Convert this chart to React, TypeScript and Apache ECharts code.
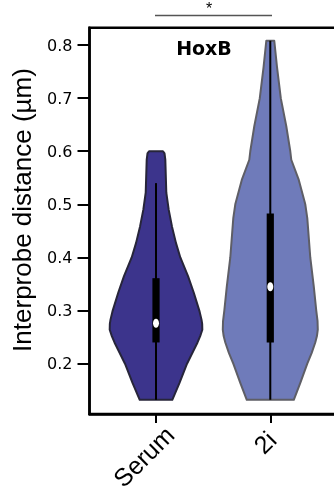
import React, { useEffect, useRef } from 'react';
import * as echarts from 'echarts';

const categories = ['Serum', '2i'];
const yTicks = [0.2, 0.3, 0.4, 0.5, 0.6, 0.7, 0.8];
const panelTitle = 'HoxB';
const yTitle = 'Interprobe distance (µm)';
const significance = '*';

// violin outline: [value, relative density]
const serumDensity: [number, number][] = [
  [0.132, 0.343], [0.164, 0.495], [0.2, 0.653], [0.24, 0.874], [0.252, 0.93], [0.264, 0.975],
  [0.275, 0.972], [0.283, 0.958], [0.3, 0.912], [0.334, 0.794], [0.365, 0.674], [0.4, 0.512],
  [0.427, 0.421], [0.458, 0.337], [0.49, 0.267], [0.522, 0.217], [0.584, 0.196],
  [0.596, 0.179], [0.6, 0.147],
];
const twoIDensity: [number, number][] = [
  [0.132, 0.495], [0.164, 0.632], [0.2, 0.779], [0.22, 0.87], [0.24, 0.947], [0.252, 0.982],
  [0.264, 1.0], [0.28, 0.995], [0.3, 0.968], [0.345, 0.916], [0.4, 0.842], [0.474, 0.779],
  [0.5, 0.737], [0.546, 0.6], [0.584, 0.442], [0.6, 0.421], [0.647, 0.337], [0.7, 0.221],
  [0.759, 0.141], [0.808, 0.084],
];

const whiskerLow = [0.132, 0.132];
const q1 = [0.24, 0.24];
const medians = [0.276, 0.345];
const q3 = [0.361, 0.483];
const whiskerHigh = [0.54, 0.808];

const fills = ['#3c348c', '#6f7bba'];
const strokes = ['#27253a', '#5e5e66'];
const HALF = 0.4156;
const LABEL_FONT = 25;
const LABEL_ANCHOR = 0.74;
const LABEL_NUDGE = [{ bottom: 0, right: 0 }, { bottom: 10, right: -4 }];

function measure(t: string): number {
  const ctx = document.createElement('canvas').getContext('2d');
  if (!ctx) return t.length * LABEL_FONT * 0.55;
  ctx.font = `${LABEL_FONT}px "Liberation Sans"`;
  return ctx.measureText(t).width;
}

export default function App() {
  const ref = useRef<HTMLDivElement>(null);
  useEffect(() => {
    if (!ref.current) return;
    const chart = echarts.init(ref.current, null, { renderer: 'svg' });
    const profiles = [serumDensity, twoIDensity];
    const rich: Record<string, any> = {};
    categories.forEach((c, i) => {
      const n = LABEL_NUDGE[i];
      rich['c' + i] = {
        fontSize: LABEL_FONT, fontFamily: 'Liberation Sans', color: '#000',
        padding: [0, Math.max(0, measure(c) * (2 * LABEL_ANCHOR - 1) + n.right), n.bottom, 0],
      };
    });
    chart.setOption({
      animation: false,
      textStyle: { fontFamily: 'Liberation Sans' },
      grid: {
        left: 89.5, top: 27.7, width: 250.5, height: 386.3,
        containLabel: false, outerBoundsMode: 'none',
        show: true, borderColor: '#000', borderWidth: 2.5, backgroundColor: 'transparent',
      },
      xAxis: {
        type: 'value', min: 0.418, max: 2.61,
        splitLine: { show: false },
        axisLine: { show: true, lineStyle: { color: '#000', width: 2.5 } },
        axisTick: { show: true, customValues: [1, 2], length: 9, lineStyle: { color: '#000', width: 2 } },
        axisLabel: {
          customValues: [1, 2],
          formatter: (v: number) => {
            const i = Math.round(v) - 1;
            return categories[i] ? `{c${i}|${categories[i]}}` : '';
          },
          rich,
          rotate: 45, align: 'center', fontSize: LABEL_FONT, color: '#000', fontFamily: 'Liberation Sans', margin: 30,
        },
      },
      yAxis: {
        type: 'value', min: 0.1053, max: 0.8326,
        splitLine: { show: false },
        axisLine: { show: true, lineStyle: { color: '#000', width: 2.5 } },
        axisTick: { show: true, customValues: yTicks, length: 12, lineStyle: { color: '#000', width: 2 } },
        axisLabel: {
          customValues: yTicks,
          formatter: (v: number) => v.toFixed(1),
          fontSize: 16, color: '#000', fontFamily: 'DejaVu Sans', margin: 17,
        },
      },
      series: [{
        type: 'custom',
        clip: false,
        data: categories.map((c, i) => [i + 1, whiskerLow[i], whiskerHigh[i]]),
        encode: { x: 0, y: [1, 2] },
        renderItem: (params: any, api: any) => {
          const i = params.dataIndex;
          const cx = i + 1;
          const prof = profiles[i];
          const pts: number[][] = [];
          for (const [v, d] of prof) pts.push(api.coord([cx - d * HALF, v]));
          for (let k = prof.length - 1; k >= 0; k--) {
            const [v, d] = prof[k];
            pts.push(api.coord([cx + d * HALF, v]));
          }
          const lo = api.coord([cx, whiskerLow[i]]);
          const hi = api.coord([cx, whiskerHigh[i]]);
          const b1 = api.coord([cx, q1[i]]);
          const b3 = api.coord([cx, q3[i]]);
          const m = api.coord([cx, medians[i]]);
          return {
            type: 'group',
            children: [
              { type: 'polygon', shape: { points: pts }, style: { fill: fills[i], stroke: strokes[i], lineWidth: 2, lineJoin: 'round' } },
              { type: 'line', shape: { x1: lo[0], y1: lo[1], x2: hi[0], y2: hi[1] }, style: { stroke: '#000', lineWidth: 2 } },
              { type: 'rect', shape: { x: b3[0] - 3.6, y: b3[1], width: 7.2, height: b1[1] - b3[1] }, style: { fill: '#000' } },
              { type: 'ellipse', shape: { cx: m[0], cy: m[1], rx: 3, ry: 4.5 }, style: { fill: '#fff' } },
            ],
          };
        },
      }],
      graphic: [
        { type: 'text', x: 204, y: 48, style: { text: panelTitle, fontFamily: 'DejaVu Sans', fontWeight: 'bold', fontSize: 19, fill: '#000', align: 'center', verticalAlign: 'middle' } },
        { type: 'line', shape: { x1: 155, y1: 15.5, x2: 272, y2: 15.5 }, style: { stroke: '#555', lineWidth: 1.5 } },
        { type: 'text', x: 209, y: 8.5, style: { text: significance, fontFamily: 'Liberation Sans', fontSize: 16, fill: '#000', align: 'center', verticalAlign: 'middle' } },
        { type: 'text', x: 22, y: 210, rotation: Math.PI / 2, style: { text: yTitle, fontFamily: 'Liberation Sans', fontSize: 26, fill: '#000', align: 'center', verticalAlign: 'middle' } },
      ],
    });
    return () => chart.dispose();
  }, []);
  return <div ref={ref} style={{ position: 'fixed', left: 0, top: 0, width: 345, height: 491 }} />;
}
